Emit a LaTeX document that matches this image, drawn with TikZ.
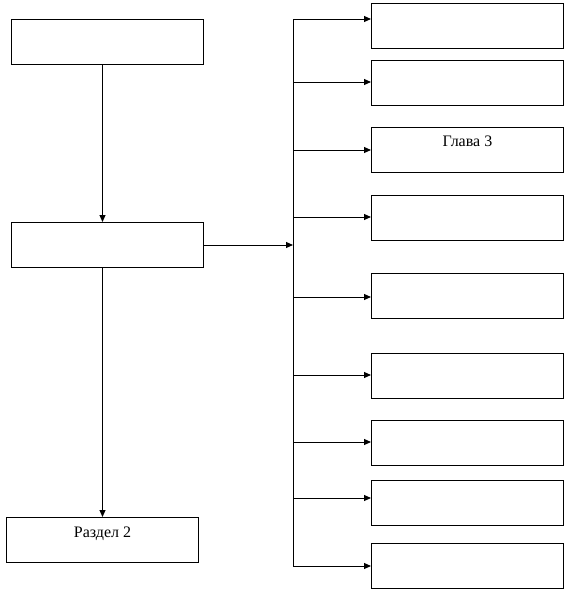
\documentclass[tikz,border=0pt]{standalone}
\usepackage{fontspec}
\setmainfont{Liberation Serif}
\usetikzlibrary{arrows.meta,positioning}
\tikzset{
  blk/.style={draw, line width=0.75pt, minimum width=144pt, minimum height=33.75pt, inner sep=0pt, anchor=north west},
  arr/.style={-{Triangle[length=5.25pt,width=4.5pt]}, line width=0.75pt},
}
\begin{document}
\begin{tikzpicture}[x=0.75pt, y=-0.75pt, font=\fontsize{12}{14.4}\selectfont]
	\useasboundingbox (0,0) rectangle (570,596);
	% left column
	\node[blk] (a) at (11,19) {};
	\node[blk] (b) at (11,222) {};
	\node[blk] (c) at (6,517) {};
	\node[anchor=base] (t2) at ([yshift=-15pt]c.north) {Раздел 2};
	\draw[arr] (a.south -| c.north) -- (b.north -| c.north);
	\draw[arr] (b.south -| c.north) -- (c.north);
	% right column
	\foreach \ytop/\yarr [count=\i] in {3/19,60/82,127/150,195/217,273/297,353/375,420/442,480/498,543/566} {
		\node[blk] (r\i) at (371,\ytop) {};
		\coordinate (p\i) at (293,\yarr);
		\draw[arr] (p\i) -- (p\i -| r\i.west);
	}
	\node[anchor=base] (t3) at ([yshift=-14.25pt]r3.north) {Глава 3};
	% bus
	\draw[line width=0.75pt, line cap=rect] (p1) -- (p9);
	\draw[arr] (b.east) -- (b.east -| p1);
\end{tikzpicture}
\end{document}
